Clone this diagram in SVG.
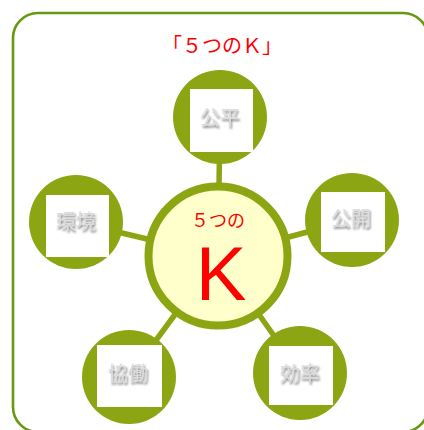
<svg xmlns="http://www.w3.org/2000/svg" width="424" height="430" viewBox="0 0 424 430">
<defs>
<style>
.sat{fill:#8ca512;}
.box{fill:#ffffff;}
.lbl{font-family:"Noto Sans CJK JP","Noto Sans",sans-serif;font-size:20px;fill:#dcdcdc;text-anchor:middle;filter:url(#sh);}
.conn{stroke:#8ca512;stroke-width:5.5;fill:none;}
.red{fill:#ff0000;text-anchor:middle;}
</style>
<filter id="sh" x="-20%" y="-30%" width="140%" height="160%">
<feGaussianBlur in="SourceAlpha" stdDeviation="1.3" result="b"/>
<feOffset in="b" dx="1" dy="1.5" result="o"/>
<feFlood flood-color="#555" flood-opacity="0.8"/>
<feComposite in2="o" operator="in" result="s"/>
<feMerge><feMergeNode in="s"/><feMergeNode in="SourceGraphic"/></feMerge>
</filter>
</defs>
<rect x="13" y="13" width="415" height="419" rx="25" fill="none" stroke="#66990f" stroke-width="2.6"/>
<text x="222" y="53" class="red" font-family="Noto Sans CJK JP, sans-serif" font-size="20">「５つのＫ」</text>
<g id="connectors">
<line class="conn" x1="218" y1="256" x2="220" y2="117"/>
<line class="conn" x1="218" y1="256" x2="76" y2="222"/>
<line class="conn" x1="218" y1="256" x2="352" y2="220"/>
<line class="conn" x1="218" y1="256" x2="129" y2="377"/>
<line class="conn" x1="218" y1="256" x2="300" y2="373"/>
</g>
<g id="center">
<circle cx="218" cy="256" r="69.5" fill="#ffffcc" stroke="#8ca512" stroke-width="8"/>
<text x="218" y="227" class="red" font-family="Noto Sans CJK JP, sans-serif" font-size="18">５つの</text>
<text x="221" y="300" class="red" font-family="Liberation Sans, Arial, sans-serif" font-size="76">K</text>
</g>
<g id="kouhei">
<circle class="sat" cx="220" cy="117" r="47"/>
<rect class="box" x="190" y="89" width="63" height="63"/>
<text class="lbl" x="220" y="125">公平</text>
</g>
<g id="kankyou">
<circle class="sat" cx="76" cy="222" r="47"/>
<rect class="box" x="46" y="195" width="63" height="62"/>
<text class="lbl" x="76" y="229">環境</text>
</g>
<g id="koukai">
<circle class="sat" cx="352" cy="220" r="47"/>
<rect class="box" x="321" y="192" width="64" height="60"/>
<text class="lbl" x="351" y="226">公開</text>
</g>
<g id="kyoudou">
<circle class="sat" cx="129" cy="377" r="47"/>
<rect class="box" x="97" y="345" width="65" height="62"/>
<text class="lbl" x="128" y="381">協働</text>
</g>
<g id="kouritsu">
<circle class="sat" cx="300" cy="373" r="47"/>
<rect class="box" x="269" y="346" width="64" height="59"/>
<text class="lbl" x="300" y="381">効率</text>
</g>
</svg>
